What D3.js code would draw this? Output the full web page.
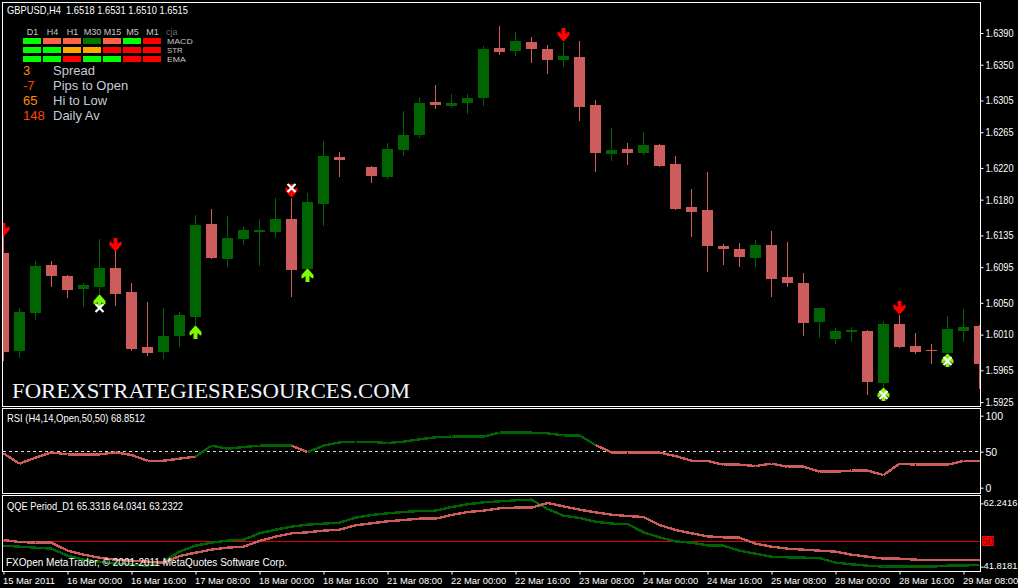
<!DOCTYPE html>
<html><head><meta charset="utf-8">
<script src="https://cdnjs.cloudflare.com/ajax/libs/d3/7.8.5/d3.min.js"></script>
<style>
html,body{margin:0;padding:0;background:#000;overflow:hidden}
svg{display:block}
text{font-family:"Liberation Sans",sans-serif;fill:#fff}
.axis path{display:none}
.axis line{stroke:#fff}
.axis text{font-size:10.5px;fill:#fff}
.axis.small text{font-size:9.4px}
</style></head><body>
<script>
// ---------- data ----------
const opens=[1.61128,1.59893,1.60372,1.60977,1.60838,1.60674,1.60700,1.60939,1.60637,1.59944,1.59881,1.60082,1.60322,1.61493,1.61052,1.61304,1.61393,1.61393,1.61556,1.60926,1.61745,1.62338,null,1.62212,1.62086,1.62426,1.62615,1.63031,1.62980,1.63018,1.63081,1.63711,1.63673,1.63787,1.63698,1.63560,1.63598,1.62993,1.62375,1.62438,1.62388,1.62489,1.62249,1.61708,1.61670,1.61216,1.61178,1.61065,1.61229,1.60826,1.60750,1.60259,1.60044,1.60133,1.60145,1.59490,1.60233,1.59956,1.59906,1.59868,1.60145,1.60208];
const highs=[1.61342,1.60435,1.61027,1.61027,1.60851,1.60750,1.61304,1.61153,1.60750,1.60511,1.60435,1.60385,1.61607,1.61682,1.61594,1.61456,1.61556,1.61821,1.61821,1.61884,1.62539,1.62399,null,1.62224,1.62514,1.62917,1.63094,1.63245,1.63131,1.63131,1.63736,1.63988,1.63913,1.63850,1.63749,1.63787,1.63799,1.63056,1.62703,1.62514,1.62653,1.62501,1.62350,1.61934,1.62149,1.61241,1.61254,1.61292,1.61405,1.61267,1.60876,1.60435,1.60183,1.60196,1.60158,1.60271,1.60347,1.60120,1.59981,1.60334,1.60422,1.60221];
const lows=[1.59767,1.59805,1.60284,1.60700,1.60561,1.60448,1.60536,1.60460,1.59893,1.59830,1.59792,1.59944,1.60196,1.61052,1.60952,1.61229,1.60964,1.61317,1.60574,1.60914,1.61468,1.62086,null,1.62010,1.62060,1.62350,1.62577,1.62942,1.62955,1.62879,1.62980,1.63623,1.63610,1.63522,1.63383,1.63472,1.62791,1.62149,1.62287,1.62237,1.62363,1.62212,1.61670,1.61330,1.60889,1.60977,1.60952,1.60952,1.60574,1.60700,1.60082,1.60057,1.59981,1.60007,1.59339,1.59402,1.59931,1.59855,1.59729,1.59843,1.60007,1.59414];
const closes=[1.59881,1.60385,1.60964,1.60838,1.60662,1.60725,1.60939,1.60611,1.59918,1.59868,1.60082,1.60347,1.61481,1.61065,1.61317,1.61418,1.61418,1.61556,1.60914,1.61771,1.62350,1.62300,null,1.62098,1.62438,1.62615,1.63018,1.62993,1.63018,1.63081,1.63698,1.63661,1.63799,1.63698,1.63560,1.63610,1.62968,1.62388,1.62426,1.62388,1.62489,1.62224,1.61682,1.61645,1.61216,1.61178,1.61078,1.61229,1.60800,1.60750,1.60246,1.60435,1.60145,1.60158,1.59502,1.60233,1.59944,1.59881,1.59893,1.60170,1.60196,1.59729];
const priceTicks=[1.6390,1.6350,1.6305,1.6265,1.6220,1.6180,1.6135,1.6095,1.6050,1.6010,1.5965,1.5925];
const timeTickIdx=[0,4,8,12,16,20,24,28,32,36,40,44,48,52,56,60];
const timeTickLabels=["15 Mar 2011","16 Mar 00:00","16 Mar 16:00","17 Mar 08:00","18 Mar 00:00","18 Mar 16:00","21 Mar 08:00","22 Mar 00:00","22 Mar 16:00","23 Mar 08:00","24 Mar 00:00","24 Mar 16:00","25 Mar 08:00","28 Mar 00:00","28 Mar 16:00","29 Mar 08:00"];
const downArrowIdx=[0,7,18,35,56];
const downArrowPrice=[1.61506,1.61317,1.61997,1.63963,1.60523];
const upArrowIdx=[6,12,19,55,59];
const upArrowPrice=[1.60599,1.60208,1.60926,1.59427,1.59855];
const crossIdx=[6,18,55,59];
const crossPrice=[1.60435,1.61947,1.59339,1.59767];
const rsi=[47.7,33.4,41.7,49.1,46.3,46.3,46.3,49.1,45.4,37.5,37.5,40.3,43.1,58.4,54.2,56.5,58.4,58.4,58.4,49.5,58.4,63,63.5,63.5,62.1,63.9,67.2,70,70.9,70.9,70.9,76.4,76.4,76.4,75.5,72.7,72.7,59.3,49.1,48.7,48.7,48.7,44,37.5,37.1,32,32,30.1,33.4,29.2,29.2,22.3,22.3,23.7,23.7,17.6,33.4,32,32,32,37.1,37.1];
const rsiTicks=[100,50,0];
const qqeFast=[48.59,48.27,47.95,47.62,45.36,44.07,43.43,42.78,42.46,42.14,43.43,46.66,48.59,49.56,50.2,50.53,52.57,53.75,54.72,55.37,55.69,56.01,57.62,58.48,59.02,59.45,59.77,59.88,61.06,61.92,62.57,62.89,63.21,63.43,60.42,58.27,57.52,56.33,55.69,55.58,52.89,51.28,49.99,49.56,48.7,48.59,46.98,46.01,45.04,44.83,44.72,44.61,43.11,42.57,42.14,41.82,41.82,41.82,41.82,42.14,42.14,42.46];
const qqeSlow=[50.42,49.77,49.56,49.56,46.98,45.69,44.72,44.07,43.75,43.43,43.11,45.26,46.33,47.3,47.95,48.27,50.09,51.49,52.57,52.89,53.43,53.75,55.15,55.8,56.44,56.87,57.3,57.3,58.48,59.45,59.88,60.63,60.85,60.85,62.35,61.28,60.2,59.34,58.59,58.16,57.84,55.26,53.65,52.57,51.6,51.28,51.17,49.24,48.27,47.62,47.3,46.98,46.66,45.69,45.04,44.4,44.4,44.07,43.97,43.97,43.97,43.97];
const qqeTicks=[62.2416,41.8181];
const qqeLevel=50;
const matrixCols=["D1","H4","H1","M30","M15","M5","M1"];
const matrixRows=["MACD","STR","EMA"];
const macdColors=["#00ff00","#ff6347","#ff6347","#007800","#ff6347","#00ff00","#ff0000"];
const strColors=["#00ff00","#00ff00","#ffa500","#ffa500","#ff0000","#ff0000","#ff0000"];
const emaColors=["#00ff00","#00ff00","#ff0000","#00ff00","#00ff00","#ff0000","#ff0000"];
const statValues=["3","-7","65","148"];
const statNames=["Spread","Pips to Open","Hi to Low","Daily Av"];
const statColors=["#ff8c00","#ff4500","#ff8c00","#ff4500"];

// ---------- layout ----------
const W=1018,H=588,L=3,R=980;
const bull="#006400",bear="#cd5c5c";
const svg=d3.select("body").append("svg").attr("width",W).attr("height",H).style("background","#000");
const x=d3.scaleLinear().domain([0,61]).range([3.5,979.5]);
const yP=d3.scaleLinear().domain([1.6390,1.5925]).range([33,402.05]);
const yR=d3.scaleLinear().domain([0,100]).range([487.7,415.7]);
const yQ=d3.scaleLinear().domain([50,60]).range([541.3,510.3]);
const py=v=>Math.round(yP(v));
const fit=(sel,len)=>sel.attr("textLength",len).attr("lengthAdjust","spacingAndGlyphs");

// clip regions
const defs=svg.append("defs");
[["cMain",2,406],["cRsi",408,493],["cQqe",495,571]].forEach(([id,a,b])=>
  defs.append("clipPath").attr("id",id).append("rect").attr("x",L).attr("y",a+1).attr("width",R-L).attr("height",b-a-1));

// frames
const frame=svg.append("g").attr("stroke","#fff").attr("shape-rendering","crispEdges").attr("fill","none");
[[2,406],[408,493],[495,571]].forEach(([a,b])=>
  frame.append("rect").attr("x",2.5).attr("y",a+.5).attr("width",R-2).attr("height",b-a));

// candles
const idx=d3.range(opens.length).filter(i=>opens[i]!==null);
const main=svg.append("g").attr("clip-path","url(#cMain)").attr("shape-rendering","crispEdges");
main.selectAll(".wick").data(idx).join("rect").attr("class","wick")
  .attr("x",i=>x(i)-.5).attr("width",1)
  .attr("y",i=>py(highs[i])).attr("height",i=>py(lows[i])-py(highs[i]))
  .attr("fill",i=>closes[i]>=opens[i]?bull:bear);
main.selectAll(".body").data(idx).join("rect").attr("class","body")
  .attr("x",i=>x(i)-5.5).attr("width",11)
  .attr("y",i=>py(Math.max(opens[i],closes[i])))
  .attr("height",i=>py(Math.min(opens[i],closes[i]))-py(Math.max(opens[i],closes[i])))
  .attr("fill",i=>closes[i]>=opens[i]?bull:bear);

// signal markers
const marks=svg.append("g").attr("clip-path","url(#cMain)");
const downPath="M-2,0H2V6L5,3.5L6,4V7L0.7,13H-0.7L-6,7V4L-5,3.5L-2,6Z";
const upPath="M-2,13H2V7L5,9.5L6,9V6L0.7,0H-0.7L-6,6V9L-5,9.5L-2,7Z";
marks.selectAll(".dn").data(downArrowIdx).join("path").attr("class","dn").attr("d",downPath)
  .attr("fill","#ff0000").attr("transform",(d,k)=>`translate(${x(d)},${py(downArrowPrice[k])})`);
marks.selectAll(".up").data(upArrowIdx).join("path").attr("class","up").attr("d",upPath)
  .attr("fill","#7cfc00").attr("transform",(d,k)=>`translate(${x(d)},${py(upArrowPrice[k])})`);
marks.selectAll(".xx").data(crossIdx).join("path").attr("class","xx").attr("d","M-4,-4L4,4M4,-4L-4,4")
  .attr("stroke","#fff").attr("stroke-width",2.2).attr("fill","none")
  .attr("transform",(d,k)=>`translate(${x(d)},${py(crossPrice[k])})`);

// axes
const priceAxis=svg.append("g").attr("class","axis").attr("transform",`translate(${R+.5},0)`)
  .call(d3.axisRight(yP).tickValues(priceTicks).tickFormat(d3.format(".4f")).tickSize(3).tickPadding(2));
fit(priceAxis.selectAll("text"),28);
const rsiAxis=svg.append("g").attr("class","axis").attr("transform",`translate(${R+.5},0)`)
  .call(d3.axisRight(yR).tickValues(rsiTicks).tickFormat(d3.format("d")).tickSize(3).tickPadding(2));
const qqeAxis=svg.append("g").attr("class","axis small").attr("transform",`translate(${R+.5},0)`)
  .call(d3.axisRight(yQ).tickValues(qqeTicks).tickFormat(d3.format(".4f")).tickSize(3).tickPadding(0));
qqeAxis.selectAll("text").attr("dy","0.2em");
const timeAxis=svg.append("g").attr("class","axis small").attr("transform","translate(0,571.5)")
  .call(d3.axisBottom(x).tickValues(timeTickIdx).tickFormat((d,k)=>timeTickLabels[k]).tickSize(3).tickPadding(3));
timeAxis.selectAll("text").attr("text-anchor","start").attr("dx","-1");

// RSI panel
const rsiG=svg.append("g").attr("clip-path","url(#cRsi)").attr("shape-rendering","crispEdges");
rsiG.append("line").attr("x1",L).attr("x2",R).attr("y1",yR(50)).attr("y2",yR(50))
  .attr("stroke","#ddd").attr("stroke-dasharray","3,3");
const segs=d3.range(1,rsi.length);
rsiG.selectAll(".seg").data(segs).join("line").attr("class","seg")
  .attr("x1",i=>x(i-1)).attr("x2",i=>x(i)).attr("y1",i=>yR(rsi[i-1])).attr("y2",i=>yR(rsi[i]))
  .attr("stroke",i=>rsi[i]>=50?bull:bear).attr("stroke-width",2.4);

// QQE panel
const qG=svg.append("g").attr("clip-path","url(#cQqe)");
qG.append("line").attr("x1",L).attr("x2",R).attr("y1",yQ(qqeLevel)).attr("y2",yQ(qqeLevel))
  .attr("stroke","#e00000").attr("shape-rendering","crispEdges");
const lineQ=d3.line().x((d,i)=>x(i)).y(d=>yQ(d));
[[qqeFast,bull],[qqeSlow,bear]].forEach(([s,c])=>
  qG.append("path").attr("d",lineQ(s)).attr("fill","none").attr("stroke",c).attr("stroke-width",2.4).attr("shape-rendering","crispEdges"));
svg.append("rect").attr("x",982).attr("y",yQ(qqeLevel)-5.3).attr("width",12).attr("height",10).attr("fill","#ff0000");
svg.append("text").attr("x",988).attr("y",yQ(qqeLevel)+3.7).attr("text-anchor","middle")
  .style("font-size","10.5px").style("fill","#7a0000").text(qqeLevel);

// texts
const label=(t,xx,yy,fs,col)=>svg.append("text").attr("x",xx).attr("y",yy).style("font-size",fs+"px").style("fill",col||"#fff").text(t);
fit(label("GBPUSD,H4  1.6518 1.6531 1.6510 1.6515",7,14,10.5).attr("xml:space","preserve"),181);
fit(label("RSI (H4,14,Open,50,50) 68.8512",7,422,10.5),138);
fit(label("QQE Period_D1 65.3318 64.0341 63.2322",7,510,10.5),176);
fit(label("FXOpen MetaTrader, © 2001-2011 MetaQuotes Software Corp.",6,566,10.5),281);

// signal matrix
const matrix=[macdColors,strColors,emaColors];
const colX=d3.scaleLinear().domain([0,1]).range([23,43]);
const rowWidths=[25.7,15.7,18.7];
matrixCols.forEach((c,j)=>{
  svg.append("text").attr("x",colX(j)+9.5).attr("y",35).attr("text-anchor","middle")
    .style("font-size","9px").style("fill","#c8c8c8").text(c);
});
label("cja",166,35,9,"#5a6a70");
matrixRows.forEach((r,k)=>{
  svg.append("g").selectAll("rect").data(matrix[k]).join("rect")
    .attr("x",(d,j)=>colX(j)).attr("y",38+9*k).attr("width",18).attr("height",6).attr("fill",d=>d);
  fit(label(r,167,44+9*k,7.8,"#c8c8c8"),rowWidths[k]);
});
statValues.forEach((v,k)=>{
  label(v,23,75+15*k,13,statColors[k]);
  label(statNames[k],53,75+15*k,13,"#c4ccd8");
});
fit(label("FOREXSTRATEGIESRESOURCES.COM",12,397.5,21,"#f2f6ff").style("font-family","'Liberation Serif',serif"),398);
</script>
</body></html>
